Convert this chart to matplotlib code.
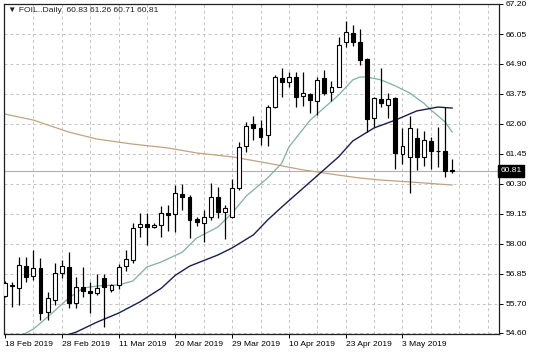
import numpy as np
import matplotlib
matplotlib.use("Agg")
import matplotlib.pyplot as plt

# daily candles, FOIL, 18 Feb 2019 .. 13 May 2019
opens = [56.01, 56.42, 56.31, 57.17, 56.79, 57.07, 55.38, 55.85, 56.90, 57.13,
         55.73, 56.34, 56.20, 56.11, 56.69, 56.24, 56.43, 57.15, 57.39, 58.64,
         58.75, 58.66, 58.73, 59.20, 59.14, 59.92, 59.81, 58.95, 58.79, 59.02,
         59.81, 59.21, 59.05, 60.13, 61.77, 62.59, 62.44, 62.18, 63.26, 64.35,
         64.22, 64.41, 63.68, 63.75, 63.49, 64.37, 63.83, 64.03, 65.73, 66.08,
         65.75, 65.08, 62.83, 63.55, 63.33, 63.59, 61.45, 61.35, 62.06, 61.35,
         61.95, 61.58, 61.57, 60.83]
highs = [56.60, 56.54, 57.51, 57.51, 57.77, 57.45, 56.17, 57.26, 57.39, 57.70,
         56.72, 57.11, 56.55, 56.85, 56.85, 56.48, 57.25, 57.77, 58.79, 59.18,
         59.17, 58.80, 59.45, 59.50, 60.26, 60.30, 59.88, 59.02, 59.30, 60.33,
         60.20, 59.50, 60.49, 61.90, 62.69, 62.92, 62.75, 63.33, 64.48, 64.73,
         64.60, 64.60, 64.60, 63.80, 64.41, 64.67, 64.25, 65.95, 66.56, 66.40,
         66.23, 65.12, 63.64, 64.74, 63.79, 63.62, 62.45, 62.90, 62.45, 62.33,
         62.12, 62.50, 63.26, 61.26]
lows = [55.95, 55.58, 55.66, 56.55, 56.62, 55.09, 55.09, 55.66, 56.69, 55.53,
        55.53, 55.95, 55.34, 56.05, 54.80, 56.17, 56.26, 56.98, 57.26, 58.28,
        57.96, 58.62, 58.28, 58.50, 58.47, 59.30, 58.22, 58.69, 58.09, 58.92,
        59.00, 58.20, 58.98, 60.07, 61.51, 61.99, 61.80, 61.77, 63.20, 63.65,
        64.00, 63.26, 63.29, 63.01, 62.95, 63.71, 63.49, 64.00, 65.56, 65.59,
        64.86, 62.30, 62.48, 63.26, 62.83, 60.87, 61.07, 59.94, 60.84, 60.99,
        60.87, 60.95, 60.57, 60.71]
closes = [56.50, 56.38, 57.19, 56.75, 57.09, 55.34, 55.92, 56.88, 57.17, 55.73,
          56.34, 56.21, 56.11, 56.33, 56.36, 56.42, 57.13, 57.41, 58.60, 58.77,
          58.66, 58.74, 59.20, 59.13, 59.94, 59.81, 58.92, 58.83, 59.05, 59.79,
          59.24, 59.39, 60.13, 61.73, 62.54, 62.44, 62.11, 63.24, 64.39, 64.20,
          64.41, 63.65, 63.77, 63.52, 64.29, 63.78, 64.00, 65.63, 66.14, 65.73,
          65.05, 62.80, 63.59, 63.39, 63.56, 61.49, 61.76, 62.45, 61.35, 61.97,
          61.55, 61.55, 60.78, 60.81]

# moving averages at some bars
fast_bars = [2, 4, 6, 9, 11, 13, 16, 18, 20, 22, 25, 27, 30, 32, 34, 37, 39, 40,
             43, 47, 49, 50, 51, 53, 55, 57, 59, 60, 62, 63]
fast_ma = [54.45, 54.74, 55.20, 55.93, 56.31, 56.39, 56.43, 56.58, 57.12, 57.31,
           57.69, 58.23, 58.65, 59.19, 59.84, 60.53, 61.10, 61.72, 62.75, 63.71,
           64.29, 64.40, 64.40, 64.29, 64.06, 63.79, 63.40, 63.14, 62.68, 62.29]
mid_bars = [8, 10, 13, 16, 19, 22, 24, 26, 30, 32, 35, 37, 39, 43, 47, 49, 52, 55, 58, 61, 63]
mid_ma = [54.45, 54.62, 55.01, 55.35, 55.78, 56.30, 56.80, 57.15, 57.58, 57.85,
          58.35, 58.92, 59.42, 60.38, 61.34, 61.95, 62.45, 62.75, 63.10, 63.25, 63.21]
slow_bars = [0, 4, 9, 13, 18, 23, 27, 32, 37, 42, 47, 50, 53, 57, 63]
slow_ma = [62.98, 62.75, 62.29, 62.02, 61.83, 61.68, 61.49, 61.34, 61.10, 60.84,
           60.64, 60.53, 60.45, 60.38, 60.26]

price_ticks = [67.20, 66.05, 64.90, 63.75, 62.60, 61.45, 60.30, 59.15, 58.00, 56.85, 55.70, 54.60]
date_bars = [0, 8, 16, 24, 32, 40, 48, 56]
date_labels = ["18 Feb 2019", "28 Feb 2019", "11 Mar 2019", "20 Mar 2019",
               "29 Mar 2019", "10 Apr 2019", "23 Apr 2019", "3 May 2019"]
last_price = 60.81

plt.rcParams['font.family'] = ['Liberation Sans', 'DejaVu Sans']

fig = plt.figure(figsize=(5.36, 3.58), dpi=100)
ax = fig.add_axes([4 / 536, 24 / 358, 495 / 536, 330 / 358])

ax.set_xlim(-0.14, 69.6)
ax.set_ylim(54.55, 67.20)

# grid
for p in price_ticks:
    ax.axhline(p, color='#c4c4c4', lw=0.7, ls=(0, (3, 3)), zorder=0)
for b in range(4, 70, 4):
    ax.axvline(b, color='#c4c4c4', lw=0.7, ls=(0, (3, 3)), zorder=0)

ax.axhline(last_price, color='#b0b0b0', lw=0.8, zorder=1)

ax.plot(slow_bars, slow_ma, color='#c4a27e', lw=0.9, zorder=2)
ax.plot(fast_bars, fast_ma, color='#7fb0a2', lw=0.9, zorder=2)
ax.plot(mid_bars, mid_ma, color='#1c1c55', lw=1.0, zorder=2)

x = np.arange(len(opens))
o = np.array(opens)
c = np.array(closes)
ax.vlines(x, lows, highs, color='black', lw=0.9, zorder=3)
bottoms = np.minimum(o, c)
heights = np.maximum(np.abs(c - o), 0.03)
fills = ['white' if cc > oo else 'black' for oo, cc in zip(o, c)]
ax.bar(x, heights, bottom=bottoms, width=0.55, color=fills,
       edgecolor='black', linewidth=0.8, zorder=4)

ax.yaxis.tick_right()
ax.set_yticks(price_ticks)
ax.set_yticklabels([f"{p:.2f}" for p in price_ticks])
ax.set_xticks(date_bars)
ax.set_xticklabels(date_labels, ha='left')
ax.tick_params(axis='y', length=3, width=0.7, labelsize=6.1, pad=2)
ax.tick_params(axis='x', length=3, width=0.7, labelsize=6.1, pad=2)

for s in ax.spines.values():
    s.set_linewidth(0.9)
    s.set_color('#202020')

ax.text(1.003, last_price, f"{last_price:.2f}", transform=ax.get_yaxis_transform(),
        color='white', fontsize=6.1, va='center', ha='left',
        bbox=dict(boxstyle='square,pad=0.3', fc='black', ec='black'), zorder=10)

ax.text(0.008, 0.99, "\u25bc FOIL..Daily  60.83 61.26 60.71 60.81", transform=ax.transAxes,
        fontsize=6.1, va='top', ha='left', color='#202020')

fig.savefig("out.png", dpi=100)
